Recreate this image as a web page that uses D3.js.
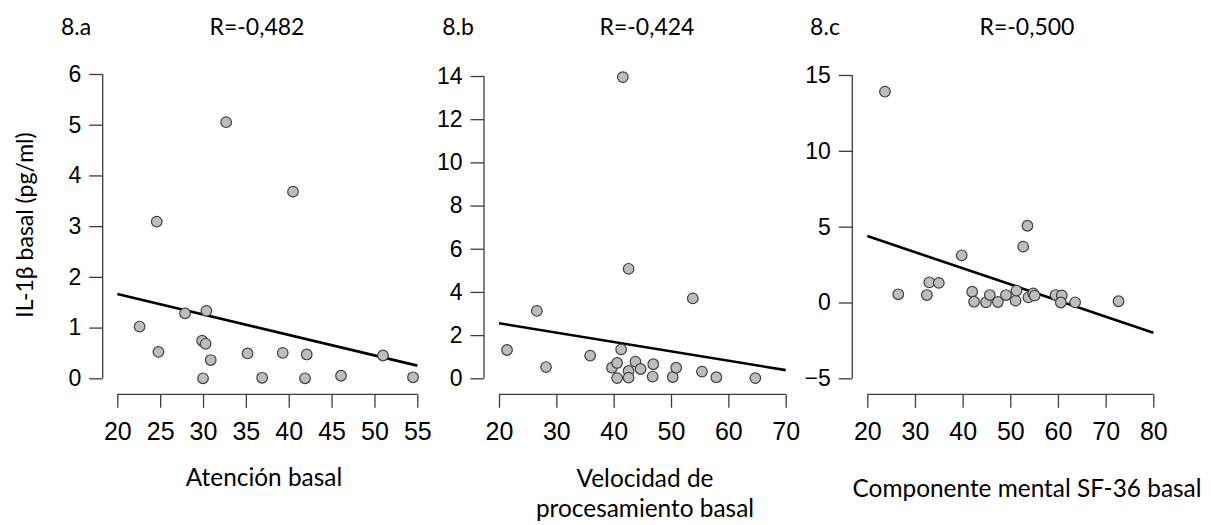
<!DOCTYPE html>
<html>
<head>
<meta charset="utf-8">
<script src="https://cdn.jsdelivr.net/npm/d3@7"></script>
<style>
  html, body { margin: 0; padding: 0; background: #fff; }
  svg { display: block; }
</style>
</head>
<body>
<svg id="chart" width="1211" height="525"></svg>
<script>
// IL-1β basal (pg/ml) against three baseline measures
const panelLabels = ["8.a", "8.b", "8.c"];
const rLabels = ["R=-0,482", "R=-0,424", "R=-0,500"];
const xTitles = [["Atención basal"], ["Velocidad de", "procesamiento basal"], ["Componente mental SF-36 basal"]];
const yTitle = "IL-1β basal (pg/ml)";

const xTicksA = [20, 25, 30, 35, 40, 45, 50, 55];
const yTicksA = [0, 1, 2, 3, 4, 5, 6];
const xTicksB = [20, 30, 40, 50, 60, 70];
const yTicksB = [0, 2, 4, 6, 8, 10, 12, 14];
const xTicksC = [20, 30, 40, 50, 60, 70, 80];
const yTicksC = [-5, 0, 5, 10, 15];

// Atención basal
const atencionX = [22.6, 24.6, 24.8, 27.9, 30.4, 29.9, 30.3, 30.9, 30.0, 32.7, 35.2, 36.9, 39.3, 40.5, 42.1, 41.9, 46.1, 51.0, 54.5];
const atencionY = [1.02, 3.09, 0.52, 1.28, 1.33, 0.74, 0.68, 0.36, 0.00, 5.05, 0.49, 0.01, 0.50, 3.68, 0.47, 0.00, 0.05, 0.45, 0.02];

// Velocidad de procesamiento basal
const velocidadX = [21.4, 26.6, 28.2, 35.9, 39.7, 40.6, 41.3, 40.6, 42.6, 42.6, 42.6, 43.8, 44.7, 46.9, 46.8, 50.3, 50.9, 53.8, 55.4, 57.9, 64.7, 41.6];
const velocidadY = [1.31, 3.12, 0.52, 1.05, 0.49, 0.71, 1.34, 0.01, 0.34, 0.03, 5.07, 0.77, 0.43, 0.65, 0.08, 0.06, 0.49, 3.70, 0.31, 0.05, 0.01, 13.95];

// Componente mental SF-36 basal
const componenteX = [23.7, 26.5, 32.5, 33.0, 35.0, 39.8, 42.0, 42.4, 44.9, 45.7, 47.4, 49.1, 51.1, 51.3, 52.7, 53.6, 53.8, 54.8, 55.1, 59.5, 60.8, 60.6, 63.6, 72.7];
const componenteY = [13.9, 0.54, 0.49, 1.33, 1.29, 3.11, 0.71, 0.05, 0.01, 0.49, 0.03, 0.49, 0.12, 0.78, 3.68, 5.06, 0.34, 0.60, 0.45, 0.49, 0.47, 0.00, 0.01, 0.08];

// fitted regression lines: [x0, y0, x1, y1]
const fitA = [20, 1.66, 55, 0.25];
const fitB = [20, 2.55, 70, 0.38];
const fitC = [20, 4.38, 80, -1.99];

const panels = [
  { xs: atencionX, ys: atencionY, xt: xTicksA, yt: yTicksA, fit: fitA,
    xr: [117.3, 417.3], yr: [378.3, 74], axisX: 102.7, tagX: 76, rX: 257, titleX: 264 },
  { xs: velocidadX, ys: velocidadY, xt: xTicksB, yt: yTicksB, fit: fitB,
    xr: [499, 785.7], yr: [378.3, 76], axisX: 484, tagX: 458, rX: 647, titleX: 645 },
  { xs: componenteX, ys: componenteY, xt: xTicksC, yt: yTicksC, fit: fitC,
    xr: [867.3, 1153.3], yr: [378.3, 75], axisX: 852.3, tagX: 825, rX: 1027, titleX: 1027 }
];

const svg = d3.select("#chart");
const calibri = "Lato, 'Open Sans', sans-serif";
const arial = "'Liberation Sans', Arial, sans-serif";
const axisColor = "#3c3c3c";
const xAxisY = 394.3;
const tickLen = 13.5;

panels.forEach((p, i) => {
  const x = d3.scaleLinear().domain(d3.extent(p.xt)).range(p.xr);
  const y = d3.scaleLinear().domain(d3.extent(p.yt)).range(p.yr);
  const g = svg.append("g");

  // y axis, detached to the left of the plotting region
  const yAxis = g.append("g")
    .attr("transform", `translate(${p.axisX},0)`)
    .call(d3.axisLeft(y).tickValues(p.yt).tickSize(tickLen).tickPadding(8).tickFormat(d3.format("d")));
  // x axis, detached below the plotting region
  const xAxis = g.append("g")
    .attr("transform", `translate(0,${xAxisY})`)
    .call(d3.axisBottom(x).tickValues(p.xt).tickSize(tickLen).tickPadding(8).tickFormat(d3.format("d")));

  [yAxis, xAxis].forEach(ax => {
    ax.select(".domain").attr("stroke", axisColor).attr("stroke-width", 1.3);
    ax.selectAll(".tick line").attr("stroke", axisColor).attr("stroke-width", 1.3);
  });
  // plain spines between the first and last tick
  yAxis.select(".domain").attr("d", `M0,${y.range()[0]}V${y.range()[1]}`);
  xAxis.select(".domain").attr("d", `M${x.range()[0]},0H${x.range()[1]}`);

  yAxis.selectAll(".tick text")
    .attr("font-family", arial).attr("font-size", 23).attr("fill", "#000");
  xAxis.selectAll(".tick text")
    .attr("font-family", arial).attr("font-size", 25).attr("fill", "#000")
    .attr("dy", "0.71em").attr("y", 28);

  // regression line
  g.append("line")
    .attr("x1", x(p.fit[0])).attr("y1", y(p.fit[1]))
    .attr("x2", x(p.fit[2])).attr("y2", y(p.fit[3]))
    .attr("stroke", "#000").attr("stroke-width", 2.6);

  // observations
  g.append("g").selectAll("circle")
    .data(d3.range(p.xs.length))
    .join("circle")
    .attr("cx", k => x(p.xs[k]))
    .attr("cy", k => y(p.ys[k]))
    .attr("r", 5.3)
    .attr("fill", "#bdbdbd")
    .attr("stroke", "#404040")
    .attr("stroke-width", 1.2);

  // panel tag and correlation
  svg.append("text").attr("x", p.tagX).attr("y", 35)
    .attr("text-anchor", "middle").attr("font-family", calibri).attr("font-size", 23)
    .text(panelLabels[i]);
  svg.append("text").attr("x", p.rX).attr("y", 35)
    .attr("text-anchor", "middle").attr("font-family", calibri).attr("font-size", 23)
    .text(rLabels[i]);

  // x title
  const lines = xTitles[i];
  const baseY = lines.length === 1 ? (i === 0 ? 486 : 497) : 487;
  lines.forEach((t, j) => {
    svg.append("text").attr("x", p.titleX).attr("y", baseY + j * 29.5)
      .attr("text-anchor", "middle").attr("font-family", calibri).attr("font-size", 24.4)
      .text(t);
  });
});

// shared y title
svg.append("text")
  .attr("transform", "translate(33,225) rotate(-90)")
  .attr("text-anchor", "middle").attr("font-family", calibri).attr("font-size", 23)
  .text(yTitle);
</script>
</body>
</html>
